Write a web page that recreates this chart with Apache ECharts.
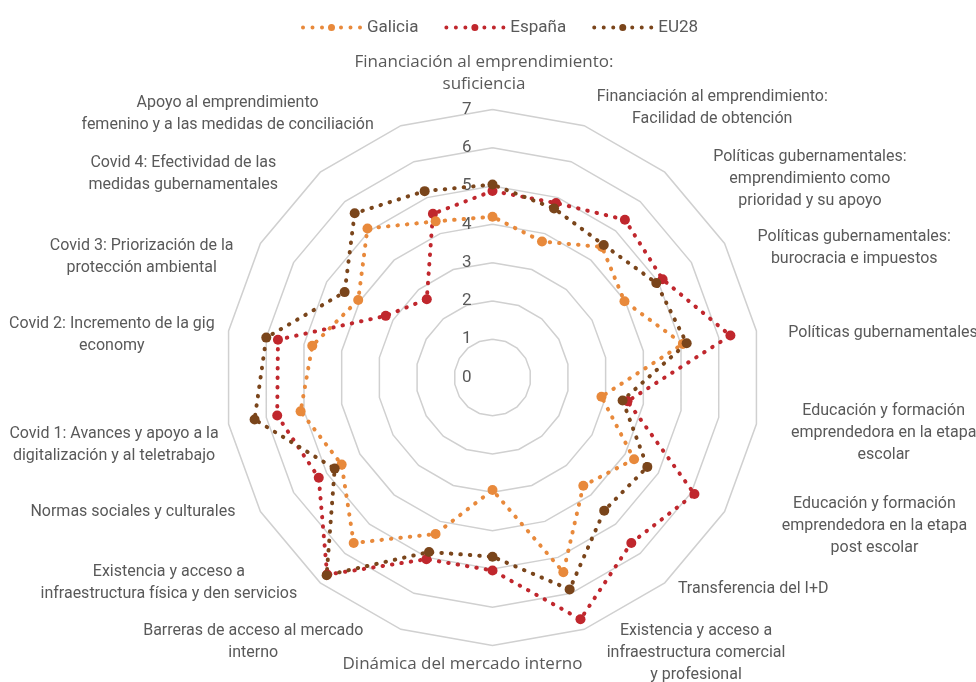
<!DOCTYPE html>
<html>
<head>
<meta charset="utf-8">
<script src="https://cdn.jsdelivr.net/npm/echarts@6/dist/echarts.min.js"></script>
<style>
  html, body { margin: 0; padding: 0; background: #fff; }
  #chart { width: 976px; height: 682px; }
</style>
</head>
<body>
<div id="chart"></div>
<script>
// indicadores en sentido horario desde arriba
var categories = [
  'Financiación al emprendimiento:\nsuficiencia',
  'Financiación al emprendimiento:\nFacilidad de obtención',
  'Políticas gubernamentales:\nemprendimiento como\nprioridad y su apoyo',
  'Políticas gubernamentales:\nburocracia e impuestos',
  'Políticas gubernamentales',
  'Educación y formación\nemprendedora en la etapa\nescolar',
  'Educación y formación\nemprendedora en la etapa\npost escolar',
  'Transferencia del I+D',
  'Existencia y acceso a\ninfraestructura comercial\ny profesional',
  'Dinámica del mercado interno',
  'Barreras de acceso al mercado\ninterno',
  'Existencia y acceso a\ninfraestructura física y den servicios',
  'Normas sociales y culturales',
  'Covid 1: Avances y apoyo a la\ndigitalización y al teletrabajo',
  'Covid 2: Incremento de la gig\neconomy',
  'Covid 3: Priorización de la\nprotección ambiental',
  'Covid 4: Efectividad de las\nmedidas gubernamentales',
  'Apoyo al emprendimiento\nfemenino y a las medidas de conciliación'
]
var galicia = [4.2, 3.78, 4.45, 3.98, 5.05, 2.89, 4.27, 3.69, 5.41, 2.94, 4.35, 5.64, 4.55, 5.09, 4.78, 4.05, 5.08, 4.34]
var espana = [4.87, 4.85, 5.38, 5.13, 6.31, 3.58, 6.09, 5.64, 6.72, 5.04, 5.05, 6.72, 5.24, 5.71, 5.69, 3.22, 2.67, 4.55]
var eu28 = [5.04, 4.7, 4.52, 4.94, 5.15, 3.45, 4.67, 4.54, 5.89, 4.68, 4.85, 6.74, 4.76, 6.31, 6.0, 4.46, 5.6, 5.18]
var seriesNames = ['Galicia', 'España', 'EU28']
var colors = { 'Galicia': '#E8893B', 'España': '#C0272D', 'EU28': '#7A451B' }

// separación y relleno de cada etiqueta (como las coloca Excel)
var nameGaps = [14, 19, 10, 8, 8, 35, 29, 8, 25, 8, 13, 0, 0, 8, 8, 8, 8, 12]
var namePads = [
  [0, 17, 0, 0], [0, 0, 0, 6], [29, 0, 0, 42], [17, 0, 0, 26], [7, 0, 0, 24],
  [5, 0, 0, 0], [0, 0, 0, 32], [0, 0, 0, 8], [0, 0, 0, 14], [0, 60, 0, 0],
  [0, 33, 0, 0], [0, 23, 0, 0], [0, 25, 0, 0], [39, 2, 0, 0], [11, 6, 0, 0],
  [34, 20, 0, 0], [15, 37, 0, 0], [0, 23, 0, 0]
]
var wideFont = [0, 9]

// echarts coloca los ejes en sentido antihorario
function ccw (a) {
  return [a[0]].concat(a.slice(1).reverse())
}

var textColor = '#595959'
var legendIcon = 'path://M0,3.5a2,2 0 1,0 4,0a2,2 0 1,0 -4,0Z' +
  'M9.5,3.5a2,2 0 1,0 4,0a2,2 0 1,0 -4,0Z' +
  'M19,3.5a2,2 0 1,0 4,0a2,2 0 1,0 -4,0Z' +
  'M27,3.5a3.5,3.5 0 1,0 7,0a3.5,3.5 0 1,0 -7,0Z' +
  'M38,3.5a2,2 0 1,0 4,0a2,2 0 1,0 -4,0Z' +
  'M47.5,3.5a2,2 0 1,0 4,0a2,2 0 1,0 -4,0Z' +
  'M57,3.5a2,2 0 1,0 4,0a2,2 0 1,0 -4,0Z'

var indicators = ccw(categories.map(function (name, i) {
  var key = wideFont.indexOf(i) >= 0 ? 'w' : 'c'
  var ind = {
    name: name.split('\n').map(function (l) { return '{' + key + '|' + l + '}' }).join('\n'),
    min: 0,
    max: 7,
    nameGap: nameGaps[i],
    nameTextStyle: { padding: namePads[i] }
  }
  if (i === 0) ind.axisLabel = { show: true }
  return ind
}))

function item (name, values) {
  var c = colors[name]
  return {
    name: name,
    value: ccw(values),
    symbol: 'circle',
    symbolSize: 10,
    itemStyle: { color: c },
    lineStyle: { color: c, width: 4, type: [0.5, 9], cap: 'round' }
  }
}

var chart = echarts.init(document.getElementById('chart'))
chart.setOption({
  animation: false,
  legend: {
    top: 14,
    left: 296,
    data: seriesNames,
    icon: legendIcon,
    itemWidth: 61,
    itemHeight: 7,
    itemGap: 26,
    textStyle: { color: textColor, fontSize: 17, fontFamily: 'Roboto' }
  },
  radar: {
    center: [492.5, 377.5],
    radius: 268,
    startAngle: 90,
    shape: 'polygon',
    splitNumber: 7,
    nameGap: 16,
    axisName: {
      color: textColor,
      fontSize: 16,
      fontFamily: 'Roboto',
      lineHeight: 22,
      rich: {
        c: { align: 'center', color: textColor, fontSize: 16, fontFamily: 'Roboto', lineHeight: 22 },
        w: { align: 'center', color: textColor, fontSize: 17, fontFamily: 'Open Sans', lineHeight: 22 }
      }
    },
    axisLine: { show: false },
    axisTick: { show: false },
    axisLabel: { show: false, color: textColor, fontSize: 17, fontFamily: 'Roboto', margin: 21, padding: [9, 0, 0, 0] },
    splitLine: { lineStyle: { color: '#D0D0D0', width: 1.5 } },
    splitArea: { show: false },
    indicator: indicators
  },
  series: [{
    type: 'radar',
    data: [item('España', espana), item('Galicia', galicia), item('EU28', eu28)]
  }]
})
</script>
</body>
</html>
